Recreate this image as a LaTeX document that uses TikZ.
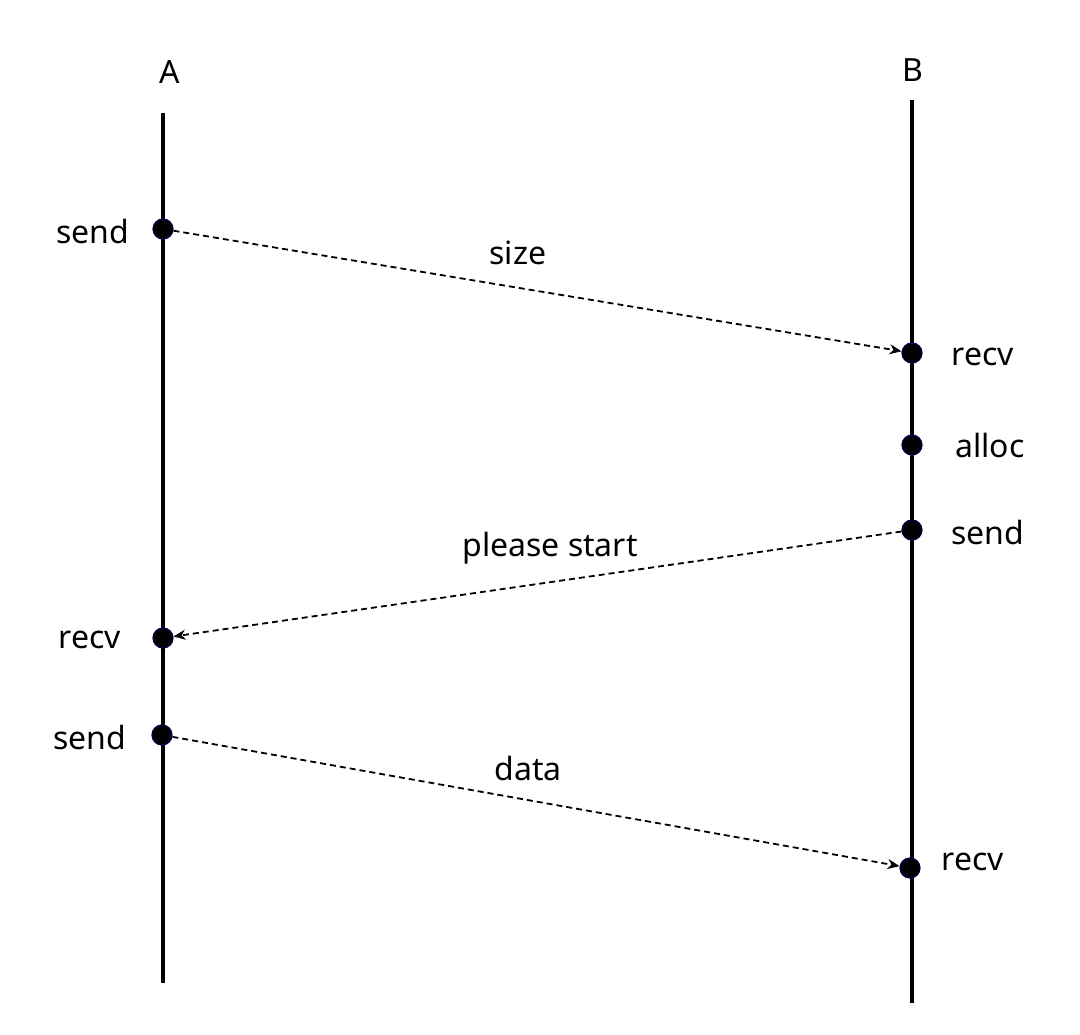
\documentclass[tikz,border=0pt]{standalone}
\usepackage{fontspec}
\setmainfont{Noto Sans}
\usetikzlibrary{arrows.meta}
\begin{document}
\begin{tikzpicture}[x=1pt,y=-1pt,
  life/.style={line width=4pt},
  ev/.style={circle,fill=black,draw=black!70!blue,line width=1.2pt,minimum size=20pt,inner sep=0pt},
  lbl/.style={font=\fontsize{32}{36}\selectfont,inner sep=0pt},
  msg/.style={line width=1.8pt,dash pattern=on 6pt off 4pt,-{Stealth[length=12pt,width=10pt]}}]
\useasboundingbox (0,0) rectangle (1080,1035);
\fill[white] (0,0) rectangle (1080,1035);
\node[lbl] (A) at (170,72) {A};
\node[lbl] (B) at (913,70) {B};
\coordinate (at) at (163,113); \coordinate (ab) at (163,983);
\coordinate (bt) at (912,100); \coordinate (bb) at (912,1003);
\draw[life] (at) -- (ab);
\draw[life] (bt) -- (bb);
\node[ev] (a1) at (163,229) {};
\node[ev] (b1) at (912,353) {};
\node[ev] (b2) at (912,445) {};
\node[ev] (b3) at (912,530) {};
\node[ev] (a2) at (163,638) {};
\node[ev] (a3) at (162,735) {};
\node[ev] (b4) at (910,868) {};
\draw[msg] (a1) -- (b1);
\draw[msg] (b3) -- (a2);
\draw[msg] (a3) -- (b4);
\node[lbl] (l1) at (93,232) {send};
\node[lbl] (l2) at (518,253) {size};
\node[lbl] (l3) at (983,357) {recv};
\node[lbl] (l4) at (990,445) {alloc};
\node[lbl] (l5) at (988,532) {send};
\node[lbl] (l6) at (550,548) {please start};
\node[lbl] (l7) at (90,640) {recv};
\node[lbl] (l8) at (90,737) {send};
\node[lbl] (l9) at (528,768) {data};
\node[lbl] (l10) at (973,862) {recv};
\end{tikzpicture}
\end{document}
